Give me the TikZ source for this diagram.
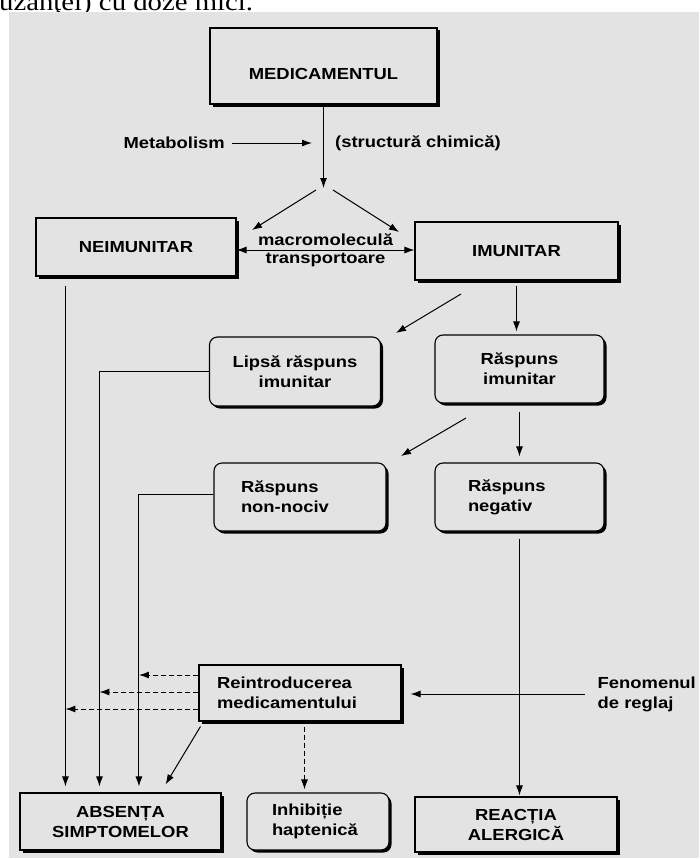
\documentclass[tikz,border=0pt]{standalone}
\usepackage{fontspec}
\setmainfont{Liberation Sans}[FakeStretch=1.15]
\newfontfamily\cutfont{Liberation Serif}[FakeStretch=1.15]
\usetikzlibrary{arrows.meta,shadows}
\definecolor{bgGray}{RGB}{227,227,227}

\begin{document}
\begin{tikzpicture}[
                x=1pt, y=-1pt,
                every node/.style={font=\fontsize{16}{20}\selectfont\bfseries},
                box/.style={draw, line width=1.1pt, fill=bgGray, inner sep=0pt, align=center,
                    drop shadow={shadow xshift=2.5pt, shadow yshift=-2.5pt, fill=black, opacity=1}},
                rbox/.style={box, rounded corners=8pt},
                lbox/.style={align=left, inner xsep=#1},
                arr/.style={line width=1pt, -{Latex[length=10pt,width=7pt]}},
                arr2/.style={line width=1pt, {Latex[length=10pt,width=7pt]}-{Latex[length=10pt,width=7pt]}},
                darr/.style={arr, dash pattern=on 5pt off 3pt}
            ]
                \useasboundingbox (0,0) rectangle (699,859);
                \node [anchor=base west, inner sep=0pt, font=\cutfont\fontsize{25}{25}\selectfont] (cut) at (-1,10.5) {uzanţei) cu doze mici.};
                \fill [bgGray] (9,12) rectangle (699,858);

                \node [box, minimum width=227pt, minimum height=76pt, text height=30pt, text depth=4pt] (med) at (323.5,66) {MEDICAMENTUL};
                \node [box, minimum width=200pt, minimum height=58pt] (neim) at (136,247) {NEIMUNITAR};
                \node [box, minimum width=203pt, minimum height=58pt] (imun) at (516.5,251) {IMUNITAR};
                \node [rbox, minimum width=171pt, minimum height=69pt] (lipsa) at (295,371.5) {Lipsă răspuns\\imunitar};
                \node [rbox, minimum width=169pt, minimum height=68pt] (rimun) at (519.5,369) {Răspuns\\imunitar};
                \node [rbox, lbox=27pt, text width=118pt, minimum height=68pt] (nonnoc) at (300,497) {Răspuns\\non-nociv};
                \node [rbox, lbox=33pt, text width=103pt, minimum height=68pt] (negativ) at (519.5,497) {Răspuns\\negativ};
                \node [box, lbox=18pt, text width=166pt, minimum height=56pt] (reintro) at (300,693) {Reintroducerea\\medicamentului};
                \node [box, minimum width=201pt, minimum height=57pt] (absenta) at (120.5,821.5) {ABSENȚA\\SIMPTOMELOR};
                \node [rbox, lbox=25pt, text width=92pt, minimum height=57pt] (inhib) at (318,821.5) {Inhibiție\\haptenică};
                \node [box, minimum width=202pt, minimum height=55pt] (reactia) at (516,824.5) {REACȚIA\\ALERGICĂ};

                \node [anchor=east, inner sep=0pt] (metab) at (225,143) {Metabolism};
                \node [anchor=west, inner sep=0pt] (chem) at (335,143) {(structură chimică)};
                \node [anchor=west, inner sep=0pt, align=left] (fenom) at (597.5,694) {Fenomenul\\de reglaj};

                \coordinate (mtip) at (312,143);
                \coordinate (fork) at (322,188);
                \coordinate (forkL) at (316,190);
                \coordinate (forkR) at (333,190);
                \coordinate (neimIn) at (252,230);
                \coordinate (imunIn) at (399,232);
                \coordinate (imunOut) at (461,294);
                \coordinate (lipsaIn) at (396,333);
                \coordinate (rimunOut) at (466,418);
                \coordinate (nonnocIn) at (401,456);
                \coordinate (colA) at ([xshift=46pt]absenta.north west);
                \coordinate (colB) at ([xshift=80pt]absenta.north west);
                \coordinate (colC) at ([xshift=119.5pt]absenta.north west);
                \coordinate (mm) at ([yshift=-3pt]neim.east);
                \coordinate (d1) at ([yshift=18pt]reintro.west);
                \coordinate (d2) at ([yshift=1pt]reintro.west);
                \coordinate (d3) at ([yshift=-16pt]reintro.west);
                \coordinate (rs) at ([xshift=4.5pt]reintro.south);

                \draw [arr] (med.south) -- (med.south |- fork);
                \draw [arr, shorten <=7pt] (metab) -- (mtip);
                \draw [arr] (forkL) -- (neimIn);
                \draw [arr] (forkR) -- (imunIn);
                \draw [arr2] (mm) -- (mm -| imun.west)
                    node [midway, above=4pt, inner sep=0pt] {macromoleculă}
                    node [midway, below=2.5pt, inner sep=0pt] {transportoare};

                \draw [arr] (imunOut) -- (lipsaIn);
                \draw [arr, shorten <=5pt, shorten >=3pt] (imun.south) -- (imun.south |- rimun.north);
                \draw [arr] (rimunOut) -- (nonnocIn);
                \draw [arr, shorten <=8pt, shorten >=6pt] (rimun.south) -- (rimun.south |- negativ.north);
                \draw [arr, shorten <=7pt, shorten >=1pt] (negativ.south) -- (negativ.south |- reactia.north);

                \draw [arr, shorten <=9pt, shorten >=6pt] (neim.south -| colA) -- (colA);
                \draw [arr, shorten >=6pt] (lipsa.west) -| (colB);
                \draw [arr, shorten >=6pt] ([yshift=3pt]nonnoc.west) -| (colC);

                \draw [darr] (d1) -- (d1 -| colC);
                \draw [darr] (d2) -- (d2 -| colB);
                \draw [darr] (d3) -- (d3 -| colA);
                \draw [arr] ([xshift=2pt,yshift=-5pt]reintro.south west) -- ([xshift=-56pt,yshift=8pt]absenta.north east);
                \draw [darr, shorten <=5pt, shorten >=3pt] (rs) -- (rs |- inhib.north);
                \draw [arr, shorten <=13pt, shorten >=9pt] (fenom.west) -- (fenom.west -| reintro.east);
            \end{tikzpicture}
\end{document}
